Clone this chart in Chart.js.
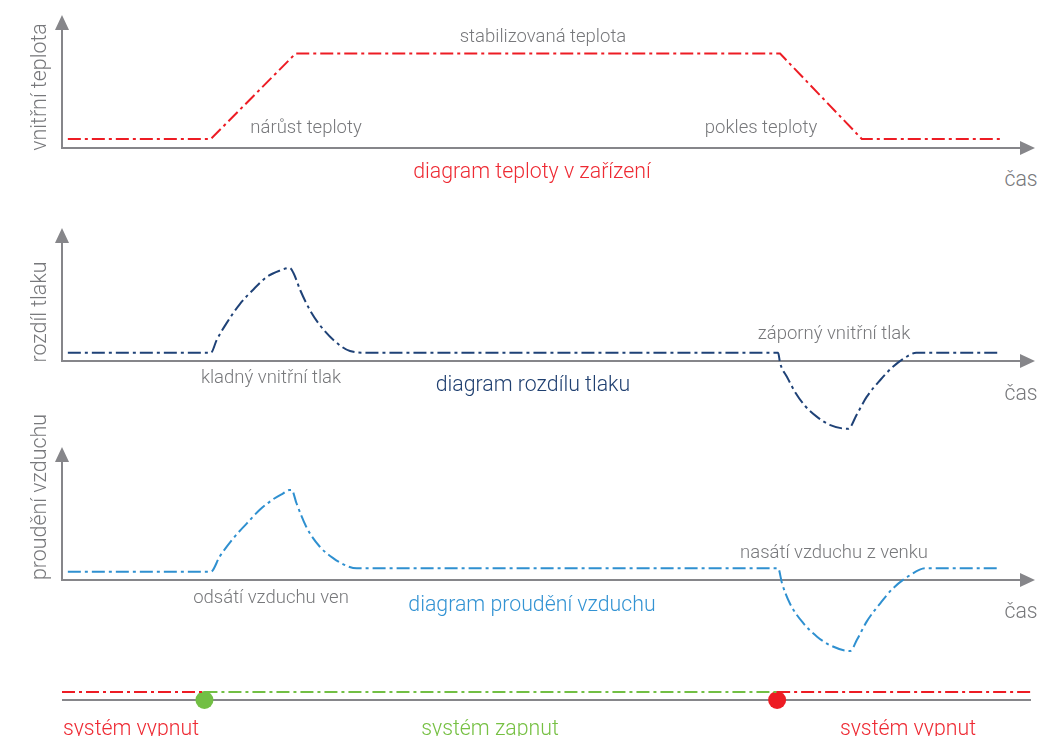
<!DOCTYPE html>
<html>
<head>
<meta charset="utf-8">
<script src="https://cdn.jsdelivr.net/npm/chart.js@4"></script>
<style>
  html, body { margin: 0; padding: 0; background: #fff; }
  #wrap { position: relative; width: 1040px; height: 736px; overflow: hidden;
          font-family: Roboto, "Liberation Sans", sans-serif; font-weight: 300; }
  canvas { position: absolute; left: 0; }
  .lbl { position: absolute; transform: translate(-50%, -50%); white-space: nowrap; color: #77787b; font-size: 18.5px; }
  .big { font-size: 21.3px; }
  .rot { transform: translate(-50%, -50%) rotate(-90deg); font-size: 21.4px; }
</style>
</head>
<body>
<div id="wrap">
  <canvas id="tempChart" width="1040" height="160" style="top:0"></canvas>
  <canvas id="pressChart" width="1040" height="250" style="top:200px"></canvas>
  <canvas id="flowChart" width="1040" height="250" style="top:420px"></canvas>
  <canvas id="stateChart" width="1040" height="50" style="top:670px"></canvas>

  <div class="lbl rot" style="left:38px; top:87px">vnitřní teplota</div>
  <div class="lbl" style="left:543px; top:36px">stabilizovaná teplota</div>
  <div class="lbl" style="left:306px; top:127px">nárůst teploty</div>
  <div class="lbl" style="left:761px; top:127px">pokles teploty</div>
  <div class="lbl big" style="left:532px; top:170px; color:#ee2a33">diagram teploty v zařízení</div>
  <div class="lbl big" style="left:1021px; top:178px">čas</div>

  <div class="lbl rot" style="left:38px; top:312px">rozdíl tlaku</div>
  <div class="lbl" style="left:271px; top:377px">kladný vnitřní tlak</div>
  <div class="lbl" style="left:834px; top:333px">záporný vnitřní tlak</div>
  <div class="lbl big" style="left:533px; top:383px; color:#1f3f70">diagram rozdílu tlaku</div>
  <div class="lbl big" style="left:1021px; top:392px">čas</div>

  <div class="lbl rot" style="left:38px; top:497px">proudění vzduchu</div>
  <div class="lbl" style="left:271px; top:597px">odsátí vzduchu ven</div>
  <div class="lbl" style="left:834px; top:552px">nasátí vzduchu z venku</div>
  <div class="lbl big" style="left:532px; top:603px; color:#3393d3">diagram proudění vzduchu</div>
  <div class="lbl big" style="left:1021px; top:610px">čas</div>

  <div class="lbl big" style="left:131px; top:727px; color:#ee2a33">systém vypnut</div>
  <div class="lbl big" style="left:490px; top:727px; color:#76c043">systém zapnut</div>
  <div class="lbl big" style="left:908px; top:727px; color:#ee2a33">systém vypnut</div>
</div>
<script>
// time runs 0..100 along each x axis
const tempTime = [0.6, 15.3, 24.0, 73.8, 82.2, 96.6];
const tempValues = [0.68, 0.68, 7.1, 7.1, 0.68, 0.68];

const pressTime = [0.6, 15.3, 15.9, 16.9, 18.3, 19.7, 21.0, 22.4, 23.4,
                   23.8, 24.5, 25.5, 26.5, 27.9, 29.6, 31.3,
                   73.6, 73.8, 74.5, 75.4, 76.4, 77.6, 78.9, 80.8,
                   81.7, 82.7, 84.1, 85.4, 86.8, 87.8, 96.4];
const pressValues = [0.62, 0.62, 1.58, 2.83, 4.3, 5.4, 6.3, 6.8, 7.0,
                     6.6, 5.3, 3.8, 2.7, 1.58, 0.75, 0.62,
                     0.62, -0.15, -1.18, -2.4, -3.4, -4.2, -4.8, -5.1,
                     -4.0, -2.7, -1.43, -0.43, 0.32, 0.62, 0.62];

const flowTime = [0.6, 15.3, 16.2, 17.6, 19.0, 20.3, 21.7, 22.7, 23.4,
                  23.6, 24.1, 25.1, 26.5, 27.9, 29.3, 30.3,
                  73.6, 74.0, 74.8, 76.2, 77.6, 78.9, 81.0,
                  81.7, 82.7, 84.1, 85.4, 87.2, 88.7, 96.4];
const flowValues = [0.62, 0.62, 1.75, 3.13, 4.26, 5.26, 6.07, 6.5, 6.77,
                    6.77, 5.77, 4.0, 2.5, 1.63, 1.05, 0.88,
                    0.88, -0.25, -1.75, -3.26, -4.26, -4.89, -5.34,
                    -4.5, -3.13, -1.75, -0.63, 0.38, 0.88, 0.88];

const switchOn = 14.7;
const switchOff = 73.8;

const RED = '#ed1c24', DARK_BLUE = '#1f4277', LIGHT_BLUE = '#2f90d0', GREEN = '#72bf44', AXIS = '#86868a';
const DASH = [13, 4, 3, 4];

function pts(xs, ys) { return xs.map((x, i) => ({ x: x, y: ys[i] })); }

// axes with arrowheads, drawn under the lines
const axisArrows = {
  id: 'axisArrows',
  beforeDatasetsDraw(chart, args, opts) {
    const { ctx, scales: { x, y } } = chart;
    const x0 = x.getPixelForValue(0), x1 = x.getPixelForValue(100);
    const y0 = y.getPixelForValue(0), yTop = y.getPixelForValue(y.max);
    ctx.save();
    ctx.strokeStyle = AXIS;
    ctx.fillStyle = AXIS;
    ctx.lineWidth = 2;
    ctx.beginPath();
    ctx.moveTo(x0, y0);
    ctx.lineTo(opts.arrows ? x1 - 10 : x1, y0);
    if (opts.arrows) {
      ctx.moveTo(x0, y0 + 1);
      ctx.lineTo(x0, yTop + 10);
    }
    ctx.stroke();
    if (opts.arrows) {
      ctx.beginPath();
      ctx.moveTo(x1, y0);
      ctx.lineTo(x1 - 15, y0 - 7);
      ctx.lineTo(x1 - 15, y0 + 7);
      ctx.closePath();
      ctx.fill();
      ctx.beginPath();
      ctx.moveTo(x0, yTop);
      ctx.lineTo(x0 - 7, yTop + 15);
      ctx.lineTo(x0 + 7, yTop + 15);
      ctx.closePath();
      ctx.fill();
    }
    ctx.restore();
  }
};

function lineSet(data, color, smooth) {
  return {
    data: data,
    borderColor: color,
    backgroundColor: color,
    borderWidth: 2,
    borderDash: DASH,
    pointRadius: 0,
    tension: 0,
    cubicInterpolationMode: smooth ? 'monotone' : 'default',
    clip: false
  };
}

function makeChart(id, datasets, yMin, yMax, padding, arrows) {
  return new Chart(document.getElementById(id), {
    type: 'line',
    data: { datasets: datasets },
    options: {
      responsive: false,
      animation: false,
      layout: { padding: padding },
      plugins: { legend: { display: false }, tooltip: { enabled: false }, axisArrows: { arrows: arrows } },
      scales: {
        x: { type: 'linear', min: 0, max: 100, display: false },
        y: { min: yMin, max: yMax, display: false }
      }
    },
    plugins: [axisArrows]
  });
}

// vnitřní teplota
makeChart('tempChart', [lineSet(pts(tempTime, tempValues), RED, false)], 0, 10,
  { left: 62, right: 5, top: 15, bottom: 12 }, true);

// rozdíl tlaku
makeChart('pressChart', [lineSet(pts(pressTime, pressValues), DARK_BLUE, true)], -6, 10,
  { left: 62, right: 5, top: 28, bottom: 9.2 }, true);

// proudění vzduchu
makeChart('flowChart', [lineSet(pts(flowTime, flowValues), LIGHT_BLUE, true)], -6, 10,
  { left: 62, right: 5, top: 27, bottom: 10.2 }, true);

// stav systému
makeChart('stateChart', [
  lineSet([{ x: 0, y: 1 }, { x: switchOn, y: 1 }], RED, false),
  lineSet([{ x: switchOn, y: 1 }, { x: switchOff, y: 1 }], GREEN, false),
  lineSet([{ x: switchOff, y: 1 }, { x: 100, y: 1 }], RED, false),
  { data: [{ x: switchOn, y: 0 }], showLine: false, pointRadius: 9, pointBackgroundColor: GREEN, pointBorderWidth: 0, clip: false },
  { data: [{ x: switchOff, y: 0 }], showLine: false, pointRadius: 9, pointBackgroundColor: RED, pointBorderWidth: 0, clip: false }
], -1, 2, { left: 62, right: 4, top: 14, bottom: 12 }, false);
</script>
</body>
</html>
